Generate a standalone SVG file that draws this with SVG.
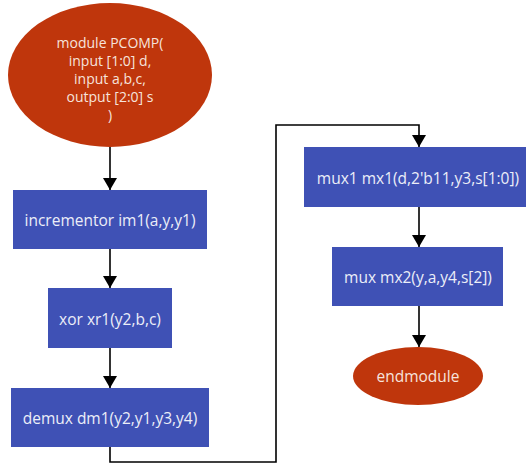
<svg xmlns="http://www.w3.org/2000/svg" width="528" height="466" viewBox="0 0 528 466">
  <defs>
    <marker id="arrow" viewBox="0 0 12 14" refX="12" refY="7" markerWidth="12" markerHeight="14" markerUnits="userSpaceOnUse" orient="auto">
      <path d="M0,0 L12,7 L0,14 Z" fill="#000"/>
    </marker>
  </defs>
  <style>
    .term { fill: #BF360C; }
    .proc { fill: #3F51B5; }
    .label { font-family: "Open Sans", "Noto Sans", sans-serif; font-size: 15.5px; text-anchor: middle; dominant-baseline: central; }
    .multi { font-size: 14px; }
    .on-term { fill: #F6E3DC; }
    .on-proc { fill: #ECEEF8; }
    .wire { fill: none; stroke: #000; stroke-width: 1.6; }
  </style>
  <rect width="528" height="466" fill="#fff"/>

  <g id="connectors">
    <line class="wire" x1="110" y1="147" x2="110" y2="190" marker-end="url(#arrow)"/>
    <line class="wire" x1="110" y1="249" x2="110" y2="288" marker-end="url(#arrow)"/>
    <line class="wire" x1="110" y1="348" x2="110" y2="388" marker-end="url(#arrow)"/>
    <polyline class="wire" points="110,447 110,462 276,462 276,125 419,125 419,147" marker-end="url(#arrow)"/>
    <line class="wire" x1="419" y1="207" x2="419" y2="247" marker-end="url(#arrow)"/>
    <line class="wire" x1="419" y1="306" x2="419" y2="347" marker-end="url(#arrow)"/>
  </g>

  <g id="module-start">
    <ellipse class="term" cx="110" cy="75" rx="102" ry="72"/>
    <text class="label multi on-term" x="110" y="42">module PCOMP(</text>
    <text class="label multi on-term" x="110" y="60">input [1:0] d,</text>
    <text class="label multi on-term" x="110" y="78">input a,b,c,</text>
    <text class="label multi on-term" x="110" y="96">output [2:0] s</text>
    <text class="label multi on-term" x="110" y="114">)</text>
  </g>

  <g id="incrementor">
    <rect class="proc" x="13" y="190" width="194" height="59"/>
    <text class="label on-proc" x="110" y="220">incrementor im1(a,y,y1)</text>
  </g>

  <g id="xor">
    <rect class="proc" x="48" y="288" width="124" height="60"/>
    <text class="label on-proc" x="110" y="319">xor xr1(y2,b,c)</text>
  </g>

  <g id="demux">
    <rect class="proc" x="11" y="388" width="198" height="59"/>
    <text class="label on-proc" x="110" y="418">demux dm1(y2,y1,y3,y4)</text>
  </g>

  <g id="mux1">
    <rect class="proc" x="304" y="147" width="222" height="60"/>
    <text class="label on-proc" x="418" y="178">mux1 mx1(d,2'b11,y3,s[1:0])</text>
  </g>

  <g id="mux2">
    <rect class="proc" x="332" y="247" width="171" height="59"/>
    <text class="label on-proc" x="418" y="277">mux mx2(y,a,y4,s[2])</text>
  </g>

  <g id="module-end">
    <ellipse class="term" cx="418" cy="376" rx="65" ry="29"/>
    <text class="label on-term" x="418" y="376">endmodule</text>
  </g>
</svg>
